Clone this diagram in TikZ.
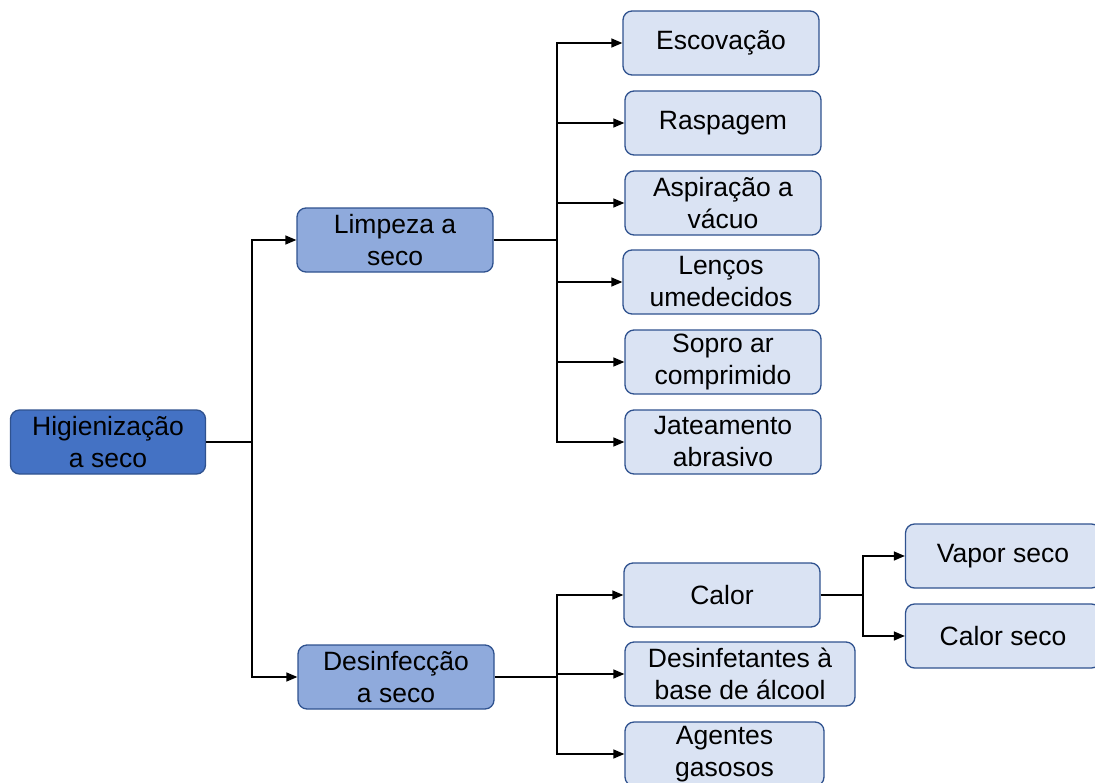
\documentclass[tikz,border=0pt]{standalone}
\usepackage{fontspec}
\setmainfont{Liberation Sans}
\usetikzlibrary{arrows.meta}
\definecolor{rootblue}{HTML}{4472C4}
\definecolor{midblue}{HTML}{8FAADC}
\definecolor{leafblue}{HTML}{DAE3F3}
\definecolor{edgeblue}{HTML}{2F528F}
\tikzset{
	box/.style={draw=edgeblue, line width=1.3pt, rounded corners=9pt, align=center, inner sep=0pt, minimum height=64pt, font=\fontsize{26.5}{32}\selectfont},
	rootbox/.style={box, fill=rootblue, minimum width=195pt},
	midbox/.style={box, fill=midblue, minimum width=196pt},
	leafbox/.style={box, fill=leafblue, minimum width=196pt},
	link/.style={line width=1.4pt, -{Triangle[length=11pt,width=9pt]}},
	plain/.style={line width=1.4pt}
}
\begin{document}
\begin{tikzpicture}[x=1pt, y=-1pt]
			%%%%% START %%%%%
			
			\clip (0, 0) rectangle (1095, 782);
			
			\node[rootbox] (hig) at (108, 442) {Higienização\\a seco};
			
			\node[midbox] (limp) at (395, 240) {Limpeza a\\seco};
			\node[midbox] (desinf) at (396, 677) {Desinfecção\\a seco};
			
			\node[leafbox] (esc) at (721, 43) {Escovação};
			\node[leafbox] (rasp) at (723, 123) {Raspagem};
			\node[leafbox] (asp) at (723, 203) {Aspiração a\\vácuo};
			\node[leafbox] (lenc) at (721, 282) {Lenços\\umedecidos};
			\node[leafbox] (sopro) at (723, 362) {Sopro ar\\comprimido};
			\node[leafbox] (jat) at (723, 442) {Jateamento\\abrasivo};
			
			\node[leafbox] (calor) at (722, 595) {Calor};
			\node[leafbox, minimum width=230pt] (alcool) at (740, 674) {Desinfetantes à\\base de álcool};
			\node[leafbox, minimum width=199pt] (gas) at (724.5, 754) {Agentes\\gasosos};
			
			\node[leafbox, minimum width=195pt] (vapor) at (1003, 556) {Vapor seco};
			\node[leafbox, minimum width=195pt] (cseco) at (1003, 636) {Calor seco};
			
			\draw[plain] (hig.east) -- (252, 442);
			\draw[link] (252, 442) |- (limp.west);
			\draw[link] (252, 442) |- (desinf.west);
			
			\draw[plain] (limp.east) -- (557, 240);
			\foreach \leaf in {esc, rasp, asp, lenc, sopro, jat}
				\draw[link] (557, 240) |- (\leaf.west);
			
			\draw[plain] (desinf.east) -- (557, 677);
			\foreach \leaf in {calor, alcool, gas}
				\draw[link] (557, 677) |- (\leaf.west);
			
			\draw[plain] (calor.east) -- (863, 595);
			\draw[link] (863, 595) |- (vapor.west);
			\draw[link] (863, 595) |- (cseco.west);
			
			%%%%% END %%%%%
		\end{tikzpicture}
\end{document}
